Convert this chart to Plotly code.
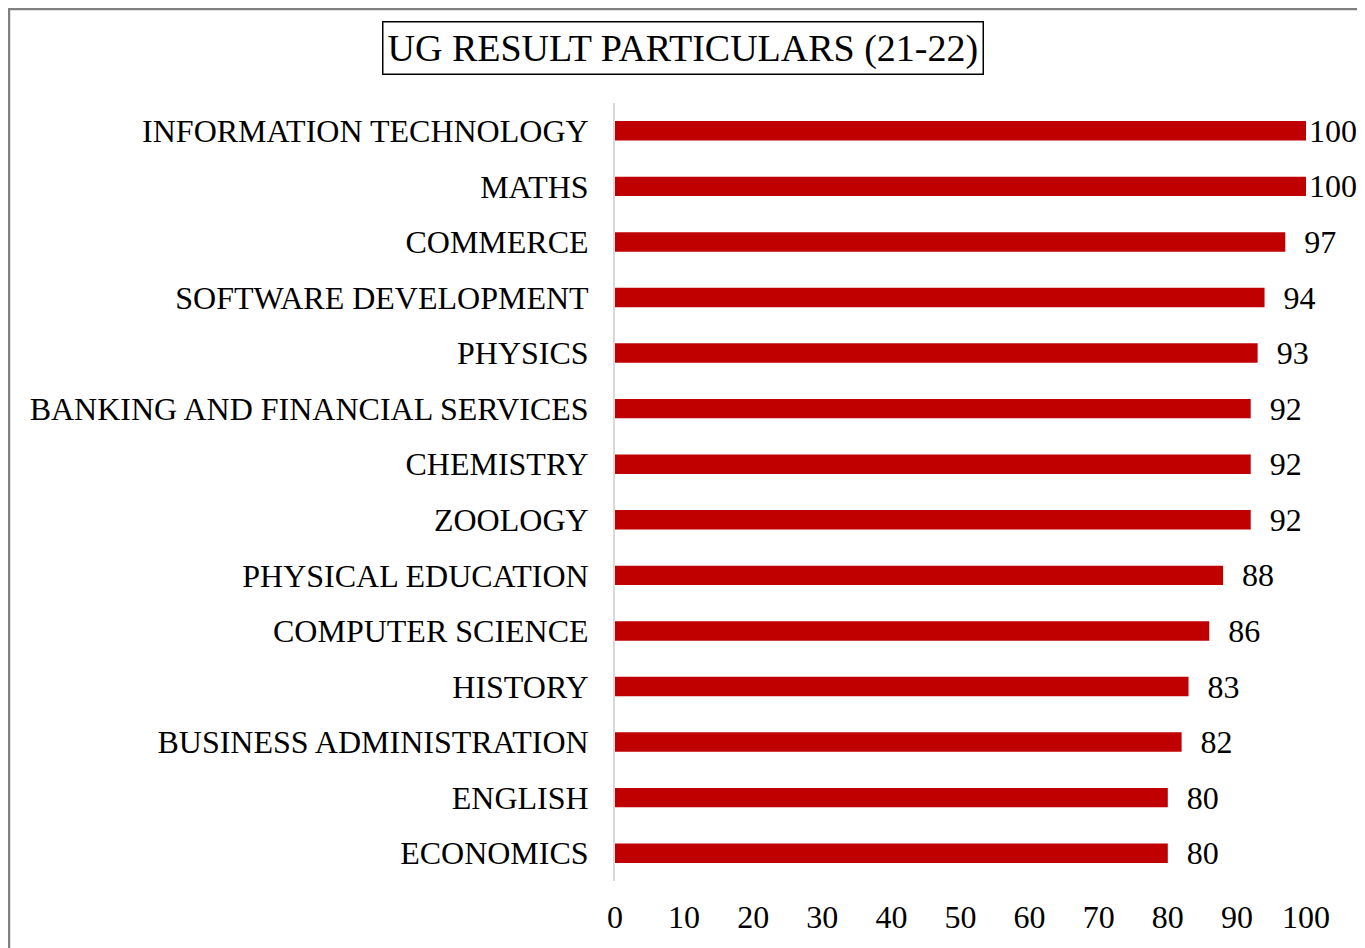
import plotly.graph_objects as go

# UG result percentages, listed top to bottom as in the chart
departments = [
    'INFORMATION TECHNOLOGY', 'MATHS', 'COMMERCE', 'SOFTWARE DEVELOPMENT',
    'PHYSICS', 'BANKING AND FINANCIAL SERVICES', 'CHEMISTRY', 'ZOOLOGY',
    'PHYSICAL EDUCATION', 'COMPUTER SCIENCE', 'HISTORY',
    'BUSINESS ADMINISTRATION', 'ENGLISH', 'ECONOMICS',
]
pass_percent = [100, 100, 97, 94, 93, 92, 92, 92, 88, 86, 83, 82, 80, 80]
x_ticks = [0, 10, 20, 30, 40, 50, 60, 70, 80, 90, 100]

BAR_COLOR = '#C00000'
FONT = 'Liberation Serif, Times New Roman, serif'

# labels that have room get a small gap from the bar end (like the excel original)
labels = [str(v) if v >= 100 else '  ' + str(v) for v in pass_percent]

fig = go.Figure()
fig.add_trace(
    go.Bar(
        x=pass_percent,
        y=departments,
        orientation='h',
        marker_color=BAR_COLOR,
        marker_line_width=0,
        text=labels,
        textposition='outside',
        constraintext='none',
        textfont=dict(family=FONT, size=32, color='black'),
        cliponaxis=False,
        hoverinfo='y+x',
    )
)

# page body has an 8px margin, so the figure is sized/offset to compensate
fig.update_layout(
    width=1357,
    height=940,
    margin=dict(l=607, r=59, t=95, b=67),
    plot_bgcolor='white',
    paper_bgcolor='white',
    font=dict(family=FONT, size=32, color='black'),
    bargap=0.65,
    showlegend=False,
    xaxis=dict(
        range=[0, 100],
        tickvals=x_ticks,
        showgrid=False,
        zeroline=False,
        showline=False,
        ticklabelstandoff=14,
        tickfont=dict(size=32),
    ),
    yaxis=dict(
        autorange='reversed',
        showgrid=False,
        zeroline=False,
        showline=True,
        linecolor='#D9D9D9',
        linewidth=2,
        ticklabelstandoff=18,
        tickfont=dict(size=32),
    ),
)

# boxed title
fig.add_annotation(
    text='UG RESULT PARTICULARS (21-22)',
    xref='paper', yref='paper',
    x=0.0984, y=1.0707,
    xanchor='center', yanchor='middle',
    showarrow=False,
    font=dict(family=FONT, size=38, color='black'),
    bordercolor='black',
    borderwidth=1.5,
    borderpad=4,
)

# outer chart border (open at the bottom, as in the source image)
fig.add_shape(
    type='rect',
    xref='paper', yref='paper',
    x0=-0.877, x1=1.0796, y0=-0.12, y1=1.1208,
    line=dict(color='#808080', width=2.5),
    layer='below',
)

fig.write_html('out.html')
